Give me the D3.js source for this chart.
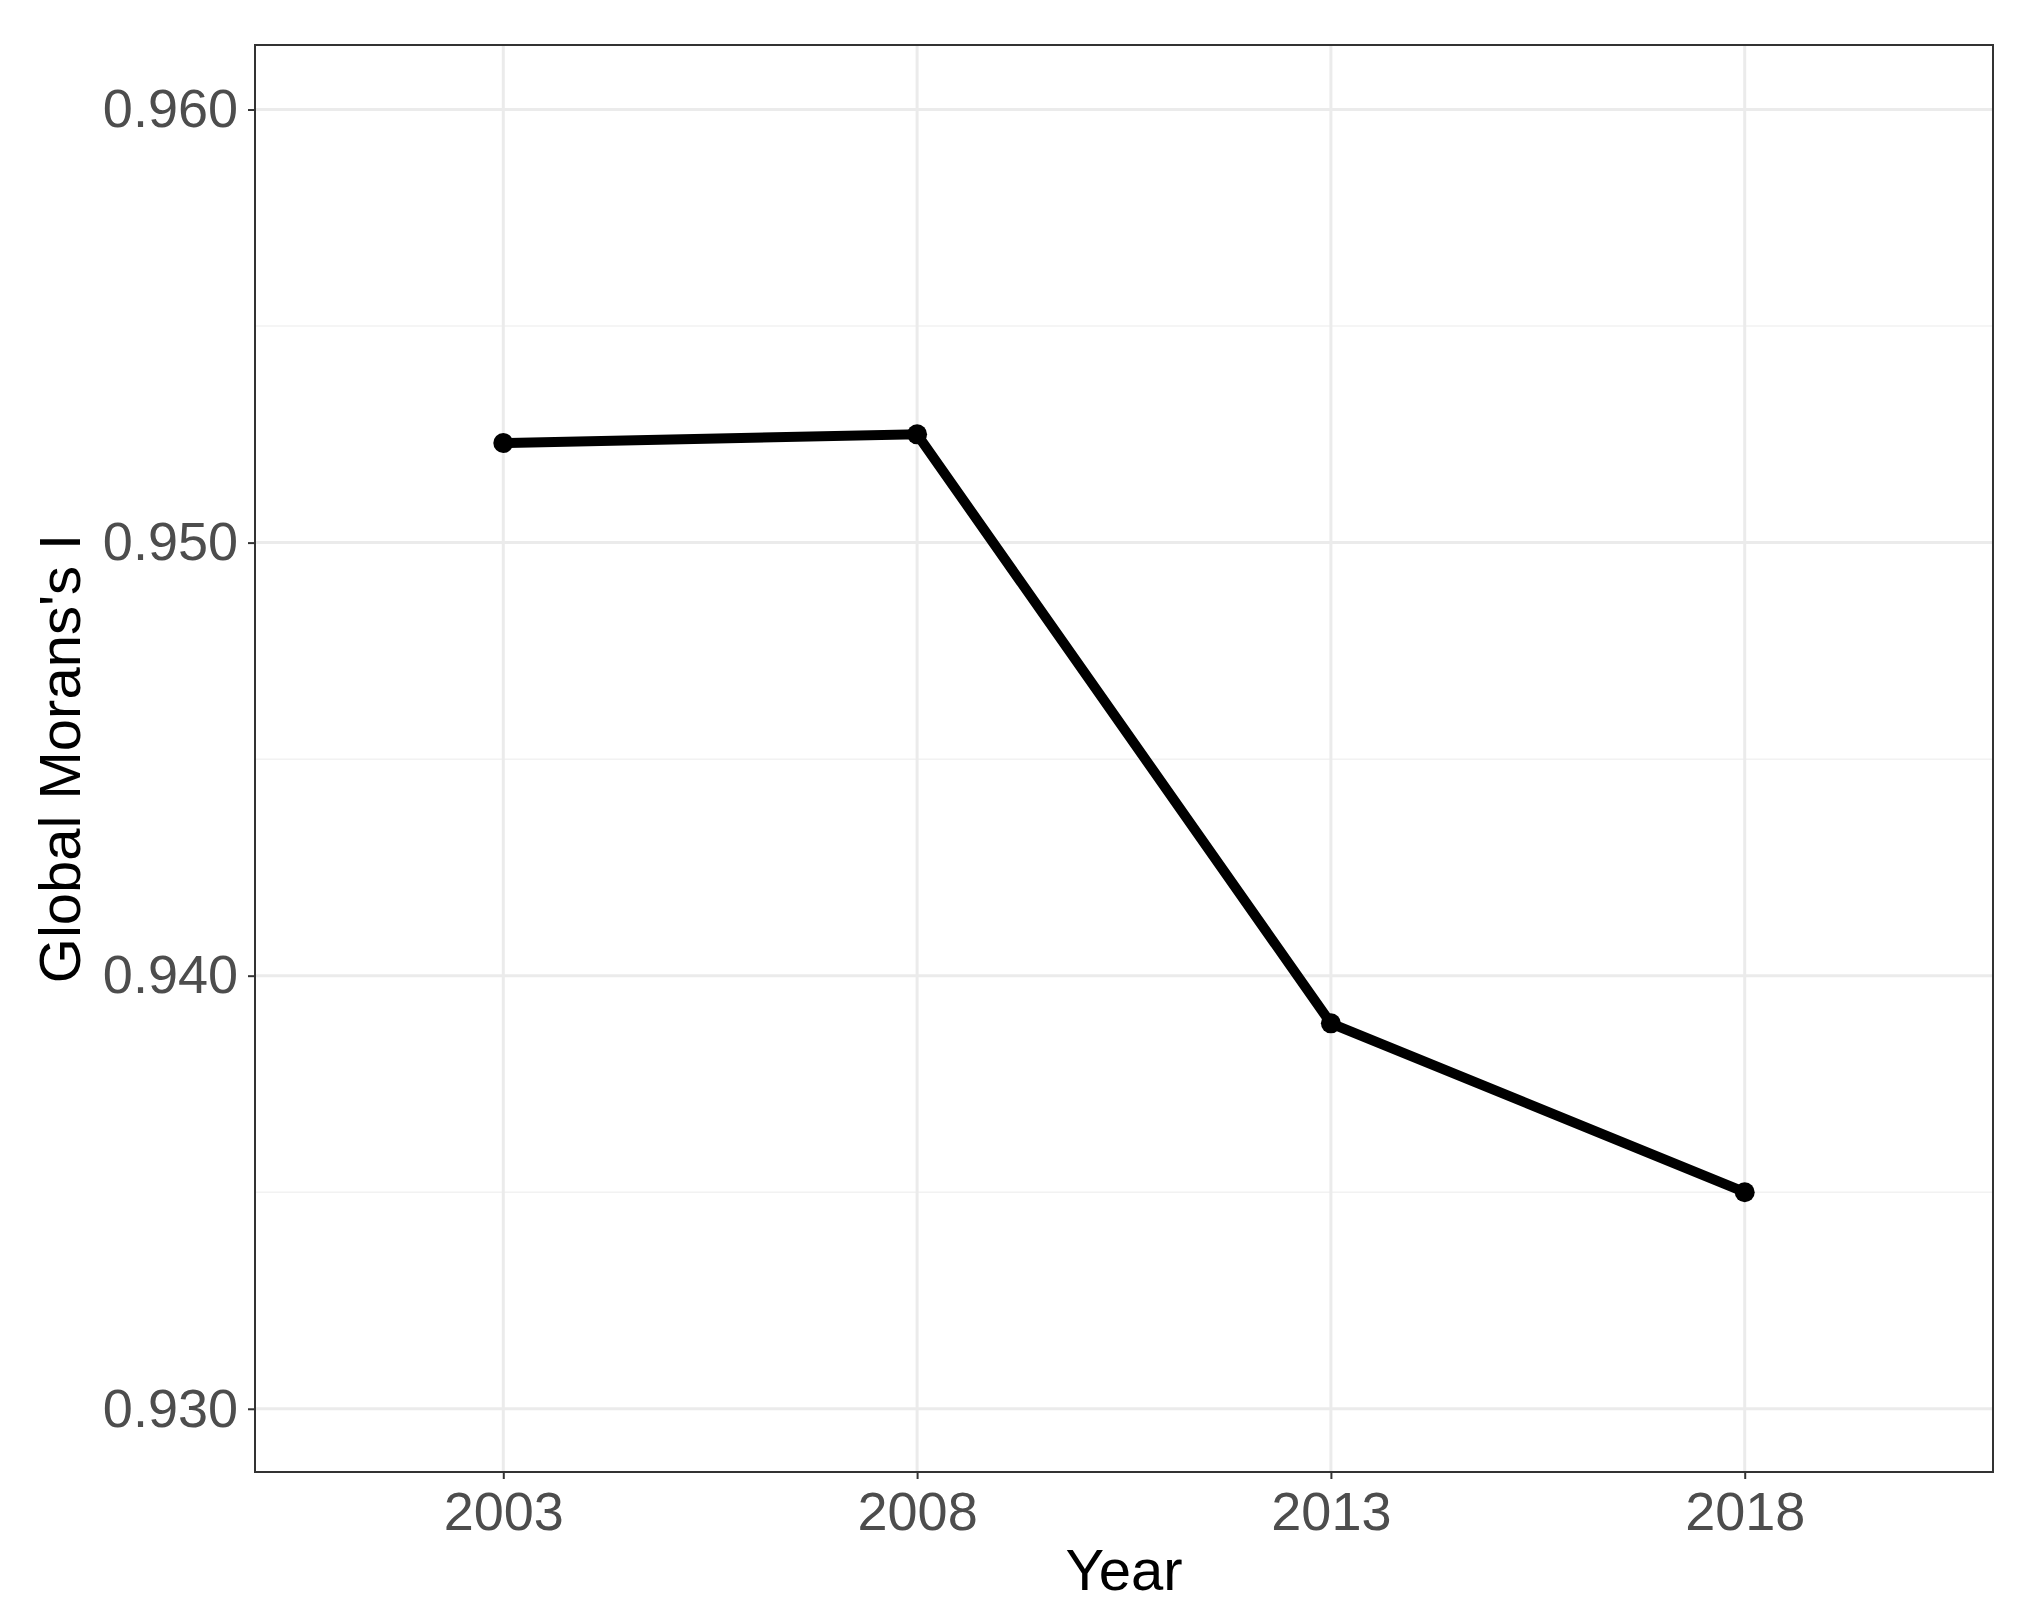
<!DOCTYPE html>
<html>
<head>
<meta charset="utf-8">
<script src="https://cdn.jsdelivr.net/npm/d3@7"></script>
<style>
  body { margin: 0; background: #fff; }
  .tick text { font-family: "Liberation Sans", Arial, sans-serif; fill: #4d4d4d; }
</style>
</head>
<body>
<svg id="chart" width="2019" height="1615"></svg>
<script>
const years = [2003, 2008, 2013, 2018];
const moransI = [0.9523, 0.9525, 0.9389, 0.9350];
const yTicks = [0.930, 0.940, 0.950, 0.960];

const margin = {top: 45, right: 26, bottom: 143, left: 255};
const width = 2019 - margin.left - margin.right,
      height = 1615 - margin.top - margin.bottom;

const svg = d3.select("#chart");
const g = svg.append("g").attr("transform", `translate(${margin.left}, ${margin.top})`);

const x = d3.scaleLinear().domain([2000, 2021]).range([0, width]);
const y = d3.scaleLinear().domain([0.92854, 0.96149]).range([height, 0]);

// minor grid
const minorY = [0.935, 0.945, 0.955];
g.selectAll(".minor").data(minorY).join("line")
  .attr("x1", 0).attr("x2", width)
  .attr("y1", d => y(d)).attr("y2", d => y(d))
  .attr("stroke", "#f2f2f2").attr("stroke-width", 1.5);

g.selectAll(".gy").data(yTicks).join("line")
  .attr("x1", 0).attr("x2", width)
  .attr("y1", d => y(d)).attr("y2", d => y(d))
  .attr("stroke", "#ebebeb").attr("stroke-width", 3);
g.selectAll(".gx").data(years).join("line")
  .attr("y1", 0).attr("y2", height)
  .attr("x1", d => x(d)).attr("x2", d => x(d))
  .attr("stroke", "#ebebeb").attr("stroke-width", 3);

g.append("g").attr("transform", `translate(0, ${height})`)
  .call(d3.axisBottom(x).tickValues(years).tickFormat(d3.format("d")).tickSize(7).tickPadding(10))
  .call(a => a.select(".domain").remove())
  .call(a => a.selectAll("line").attr("stroke", "#333").attr("stroke-width", 2))
  .call(a => a.selectAll("text").style("font-size", "54px").attr("dy", "0.75em"));

g.append("g")
  .call(d3.axisLeft(y).tickValues(yTicks).tickFormat(d3.format(".3f")).tickSize(7).tickPadding(10))
  .call(a => a.select(".domain").remove())
  .call(a => a.selectAll("line").attr("stroke", "#333").attr("stroke-width", 2))
  .call(a => a.selectAll("text").style("font-size", "54px"));

const data = years.map((yr, i) => ({yr, v: moransI[i]}));
g.append("path").datum(data)
  .attr("fill", "none").attr("stroke", "#000").attr("stroke-width", 10)
  .attr("d", d3.line().x(d => x(d.yr)).y(d => y(d.v)));
g.selectAll(".pt").data(data).join("circle")
  .attr("cx", d => x(d.yr)).attr("cy", d => y(d.v)).attr("r", 10).attr("fill", "#000");

g.append("rect").attr("width", width).attr("height", height)
  .attr("fill", "none").attr("stroke", "#333").attr("stroke-width", 2);

svg.append("text").attr("x", margin.left + width / 2).attr("y", 1590)
  .attr("text-anchor", "middle").style("font-family", "Liberation Sans, Arial, sans-serif")
  .style("font-size", "58px").text("Year");
svg.append("text").attr("transform", `translate(80, ${margin.top + height / 2}) rotate(-90)`)
  .attr("text-anchor", "middle").style("font-family", "Liberation Sans, Arial, sans-serif")
  .style("font-size", "58px").text("Global Morans's I");
</script>
</body>
</html>
